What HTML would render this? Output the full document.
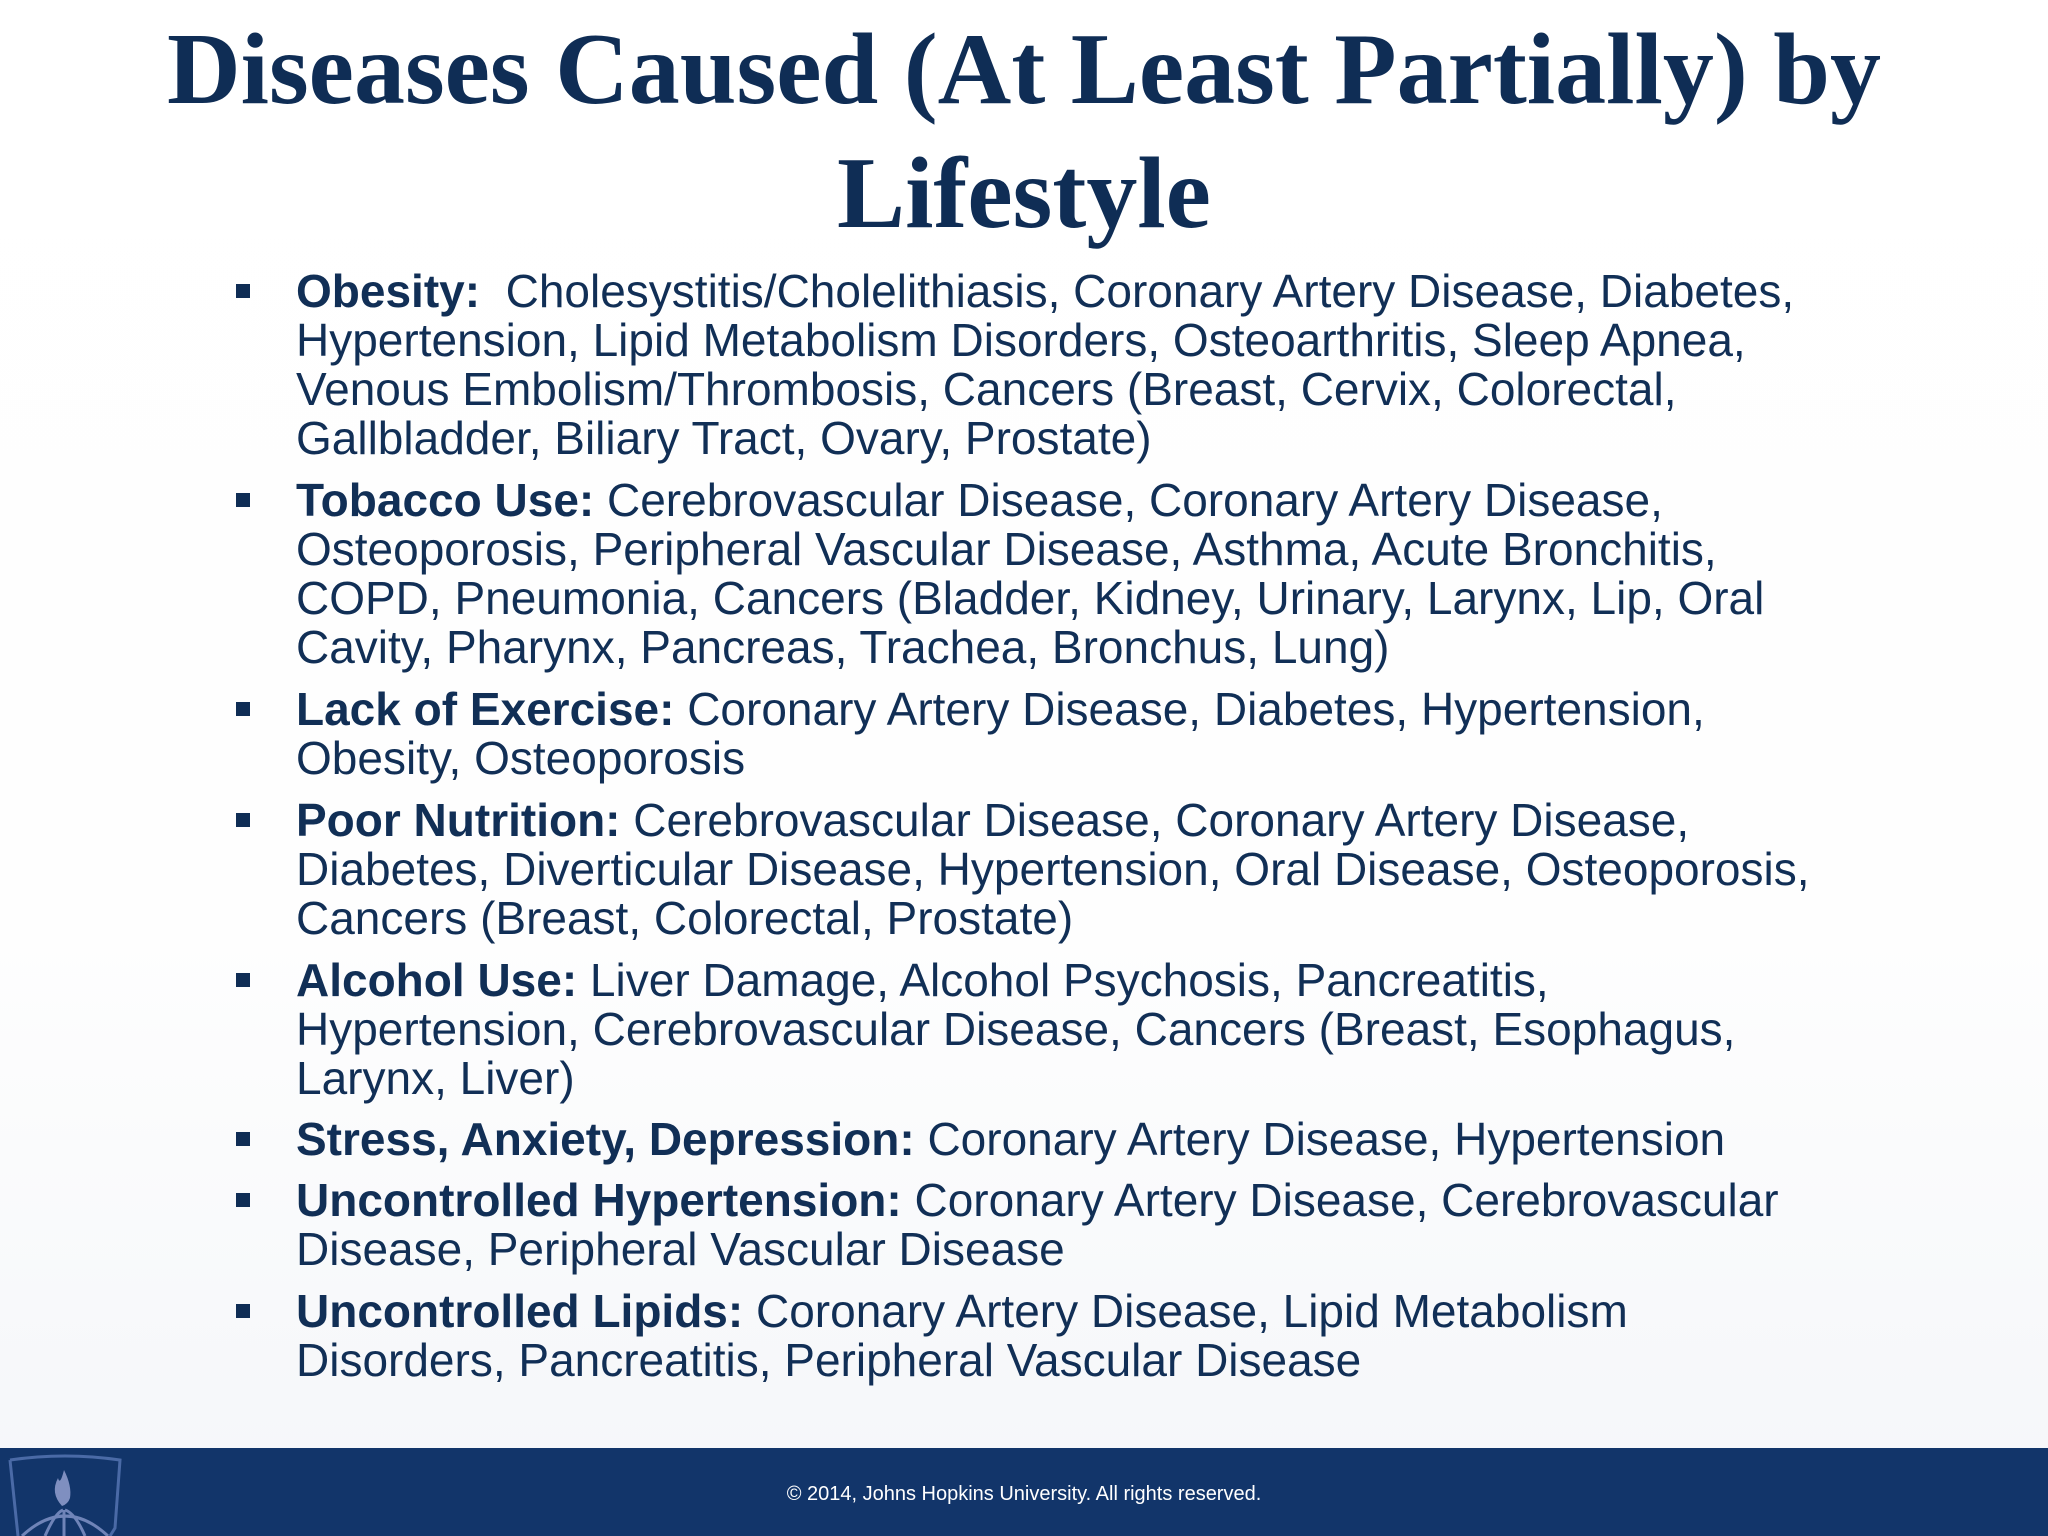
<!DOCTYPE html>
<html><head><meta charset="utf-8"><style>
html,body{margin:0;padding:0}
body{width:2048px;height:1536px;position:relative;overflow:hidden;background:linear-gradient(#ffffff 0%,#fefefe 60%,#f4f6f9 100%);font-family:"Liberation Sans",sans-serif;color:#112f56}
.title{position:absolute;left:0;width:2048px;text-align:center;font-family:"Liberation Serif",serif;font-weight:bold;font-size:102px;line-height:124px;top:8px;color:#0f2d55}
.item{position:absolute;left:296px;font-size:46px;line-height:49px;letter-spacing:0;white-space:nowrap}
.item b{font-weight:bold}
.sq{position:absolute;left:-60px;top:17px;width:14px;height:14px;background:#0f2d55}
.footer{position:absolute;left:0;top:1448px;width:2048px;height:88px;background:#12356a}
.copy{position:absolute;left:0;width:2048px;text-align:center;top:1483px;font-size:20px;color:#fff}
</style></head><body>
<div class="title">Diseases Caused (At Least Partially) by<br>Lifestyle</div>
<div class="item" style="top:267px"><span class="sq"></span><b>Obesity:</b>&nbsp; Cholesystitis/Cholelithiasis, Coronary Artery Disease, Diabetes,<br>Hypertension, Lipid Metabolism Disorders, Osteoarthritis, Sleep Apnea,<br>Venous Embolism/Thrombosis, Cancers (Breast, Cervix, Colorectal,<br>Gallbladder, Biliary Tract, Ovary, Prostate)</div>
<div class="item" style="top:476px"><span class="sq"></span><b>Tobacco Use:</b> Cerebrovascular Disease, Coronary Artery Disease,<br>Osteoporosis, Peripheral Vascular Disease, Asthma, Acute Bronchitis,<br>COPD, Pneumonia, Cancers (Bladder, Kidney, Urinary, Larynx, Lip, Oral<br>Cavity, Pharynx, Pancreas, Trachea, Bronchus, Lung)</div>
<div class="item" style="top:685px"><span class="sq"></span><b>Lack of Exercise:</b> Coronary Artery Disease, Diabetes, Hypertension,<br>Obesity, Osteoporosis</div>
<div class="item" style="top:796px"><span class="sq"></span><b>Poor Nutrition:</b> Cerebrovascular Disease, Coronary Artery Disease,<br>Diabetes, Diverticular Disease, Hypertension, Oral Disease, Osteoporosis,<br>Cancers (Breast, Colorectal, Prostate)</div>
<div class="item" style="top:956px"><span class="sq"></span><b>Alcohol Use:</b> Liver Damage, Alcohol Psychosis, Pancreatitis,<br>Hypertension, Cerebrovascular Disease, Cancers (Breast, Esophagus,<br>Larynx, Liver)</div>
<div class="item" style="top:1115px"><span class="sq"></span><b>Stress, Anxiety, Depression:</b> Coronary Artery Disease, Hypertension</div>
<div class="item" style="top:1176px"><span class="sq"></span><b>Uncontrolled Hypertension:</b> Coronary Artery Disease, Cerebrovascular<br>Disease, Peripheral Vascular Disease</div>
<div class="item" style="top:1287px"><span class="sq"></span><b>Uncontrolled Lipids:</b> Coronary Artery Disease, Lipid Metabolism<br>Disorders, Pancreatitis, Peripheral Vascular Disease</div>
<div class="footer">
<svg width="140" height="88" style="position:absolute;left:0;top:0">
<path d="M10 12 Q65 4 120 12 L115 80 L110 88 M10 12 L18 88" fill="none" stroke="#4a6aa6" stroke-width="3"/>
<path d="M62 58 Q50 45 58 30 Q60 38 64 22 Q72 38 70 50 Q68 56 62 58Z" fill="#7f8fc0"/>
<path d="M22 88 Q65 48 108 88 M45 88 Q55 65 63 62 M85 88 Q75 65 65 62 M64 62 L64 88" fill="none" stroke="#6f84b8" stroke-width="3"/>
</svg>
</div>
<div class="copy">© 2014, Johns Hopkins University. All rights reserved.</div>
</body></html>
